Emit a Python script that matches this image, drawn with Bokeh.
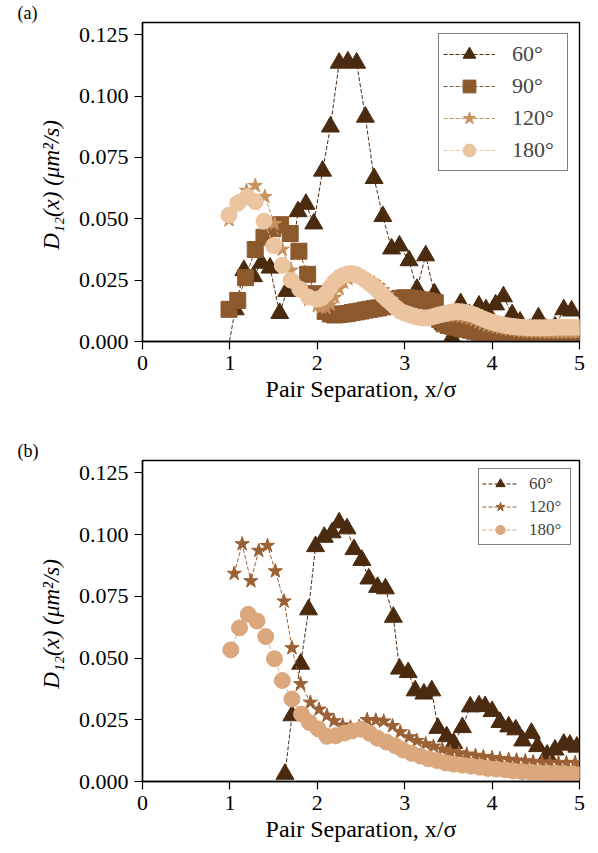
from bokeh.plotting import figure
from bokeh.layouts import column
from bokeh.models import (ColumnDataSource, Range1d, FixedTicker, NumeralTickFormatter,
                          Legend, LegendItem)
from bokeh.embed import file_html
from bokeh.resources import INLINE

SERIF = "Liberation Serif"

# ---------------- panel (a) ----------------
a60_x = [0.96, 1.06, 1.16, 1.27, 1.36, 1.46, 1.57, 1.65, 1.78, 1.87, 1.96, 2.06, 2.15, 2.25,
         2.35, 2.45, 2.55, 2.65, 2.75, 2.85, 2.94, 3.05, 3.14, 3.24, 3.34, 3.44, 3.54, 3.64,
         3.74, 3.85, 3.93, 4.04, 4.13, 4.23, 4.32, 4.43, 4.53, 4.62, 4.72, 4.82, 4.91]
a60_y = [-0.007, 0.013, 0.029, 0.0265, 0.032, 0.030, 0.0115, 0.0205, 0.053, 0.056, 0.048,
         0.0695, 0.0875, 0.1135, 0.114, 0.1135, 0.0915, 0.0665, 0.051, 0.0378, 0.039, 0.033,
         0.0213, 0.035, 0.0195, 0.007, 0.0016, 0.0155, 0.011, 0.0145, 0.013, 0.015, 0.0183,
         0.011, 0.008, 0.005, 0.0097, 0.005, 0.006, 0.013, 0.0125]

a90_x = [0.99, 1.09, 1.18, 1.29, 1.39, 1.49, 1.58, 1.69, 1.79, 1.89, 1.98, 2.09,
         2.15, 2.20, 2.25, 2.30, 2.35, 2.40, 2.45, 2.50, 2.55, 2.60, 2.65, 2.70, 2.75, 2.80,
         2.85, 2.90, 2.95, 3.00, 3.05, 3.10, 3.15, 3.20, 3.25, 3.30, 3.35, 3.40, 3.45, 3.50,
         3.55, 3.60, 3.65, 3.70, 3.75, 3.80, 3.85, 3.90, 3.95, 4.00, 4.05, 4.10, 4.15, 4.20,
         4.25, 4.30, 4.35, 4.40, 4.45, 4.50, 4.55, 4.60, 4.65, 4.70, 4.75, 4.80, 4.85, 4.90,
         4.95, 5.00]
a90_y = [0.0131, 0.0167, 0.026, 0.0375, 0.0425, 0.046, 0.0476, 0.044, 0.0368, 0.0274, 0.0195,
         0.0122, 0.0112, 0.0108, 0.0110, 0.0112, 0.0114, 0.0118, 0.0121, 0.0124, 0.0128,
         0.0131, 0.0134, 0.0137, 0.0141, 0.0145, 0.0150, 0.0172, 0.0176, 0.0178, 0.0177,
         0.0175, 0.0172, 0.0169, 0.0166, 0.0162, 0.0158, 0.0090, 0.0072, 0.0065, 0.0062,
         0.0058, 0.0054, 0.0050, 0.0046, 0.0042, 0.0038, 0.0035, 0.0031, 0.0027, 0.0024,
         0.0021, 0.0019, 0.0017, 0.0015, 0.0013, 0.0012, 0.0011, 0.0010, 0.0010, 0.0009,
         0.0009, 0.0008, 0.0008, 0.0008, 0.0007, 0.0007, 0.0007, 0.0006, 0.0006]

a120_x = [0.99, 1.09, 1.19, 1.29, 1.40, 1.51, 1.60, 1.70, 1.80, 1.90, 2.00,
          2.05, 2.10, 2.15, 2.20, 2.25, 2.30, 2.35, 2.40, 2.45, 2.50, 2.55, 2.60, 2.65, 2.70,
          2.75, 2.80, 2.85, 2.90, 2.95, 3.00, 3.05, 3.10, 3.15, 3.20, 3.25, 3.30, 3.35, 3.40,
          3.45, 3.50, 3.55, 3.60, 3.65, 3.70, 3.75, 3.80, 3.85, 3.90, 3.95, 4.00, 4.05, 4.10,
          4.15, 4.20, 4.25, 4.30, 4.35, 4.40, 4.45, 4.50, 4.55, 4.60, 4.65, 4.70, 4.75, 4.80,
          4.85, 4.90, 4.95, 5.00]
a120_y = [0.0495, 0.057, 0.0615, 0.0635, 0.059, 0.048, 0.0375, 0.029, 0.0225, 0.017, 0.0145,
          0.0140, 0.0138, 0.0150, 0.0180, 0.0215, 0.0240, 0.0255, 0.0262, 0.0265, 0.0262,
          0.0256, 0.0248, 0.0238, 0.0226, 0.0210, 0.0190, 0.0170, 0.0150, 0.0132, 0.0118,
          0.0108, 0.0100, 0.0095, 0.0092, 0.0092, 0.0094, 0.0097, 0.0100, 0.0103, 0.0105,
          0.0106, 0.0105, 0.0102, 0.0098, 0.0093, 0.0087, 0.0080, 0.0073, 0.0067, 0.0062,
          0.0058, 0.0054, 0.0051, 0.0048, 0.0046, 0.0044, 0.0042, 0.0041, 0.0040, 0.0039,
          0.0039, 0.0038, 0.0038, 0.0038, 0.0038, 0.0038, 0.0038, 0.0038, 0.0038, 0.0038]

a180_x = [0.99, 1.09, 1.20, 1.29, 1.39, 1.50, 1.60, 1.70, 1.80, 1.90, 2.00,
          2.05, 2.10, 2.15, 2.20, 2.25, 2.30, 2.35, 2.40, 2.45, 2.50, 2.55, 2.60, 2.65, 2.70,
          2.75, 2.80, 2.85, 2.90, 2.95, 3.00, 3.05, 3.10, 3.15, 3.20, 3.25, 3.30, 3.35, 3.40,
          3.45, 3.50, 3.55, 3.60, 3.65, 3.70, 3.75, 3.80, 3.85, 3.90, 3.95, 4.00, 4.05, 4.10,
          4.15, 4.20, 4.25, 4.30, 4.35, 4.40, 4.45, 4.50, 4.55, 4.60, 4.65, 4.70, 4.75, 4.80,
          4.85, 4.90, 4.95, 5.00]
a180_y = [0.0515, 0.0563, 0.059, 0.057, 0.049, 0.039, 0.031, 0.025, 0.0213, 0.0181, 0.0172,
          0.0178, 0.0195, 0.0222, 0.0245, 0.0260, 0.0270, 0.0276, 0.0277, 0.0272, 0.0262,
          0.0250, 0.0237, 0.0222, 0.0205, 0.0187, 0.0170, 0.0155, 0.0138, 0.0124, 0.0116,
          0.0110, 0.0104, 0.0099, 0.0096, 0.0096, 0.0099, 0.0104, 0.0109, 0.0113, 0.0117,
          0.0121, 0.0122, 0.0121, 0.0118, 0.0114, 0.0108, 0.0100, 0.0092, 0.0085, 0.0079,
          0.0074, 0.0070, 0.0066, 0.0063, 0.0061, 0.0059, 0.0058, 0.0057, 0.0056, 0.0056,
          0.0056, 0.0056, 0.0057, 0.0057, 0.0058, 0.0058, 0.0058, 0.0058, 0.0058, 0.0058]

# ---------------- panel (b) ----------------
b60_x = [1.63, 1.71, 1.81, 1.90, 1.98, 2.08, 2.17, 2.25, 2.34, 2.42, 2.51, 2.59, 2.69, 2.78,
         2.87, 2.94, 3.04, 3.12, 3.22, 3.31, 3.38, 3.48, 3.56, 3.66, 3.75, 3.85, 3.92, 4.00,
         4.09, 4.19, 4.27, 4.35, 4.45, 4.52, 4.63, 4.72, 4.82, 4.89, 4.97]
b60_y = [0.003, 0.0267, 0.0476, 0.0696, 0.0952, 0.099, 0.1008, 0.1048, 0.1024, 0.094, 0.0896,
         0.0821, 0.0787, 0.0781, 0.0666, 0.0456, 0.0442, 0.0368, 0.0355, 0.0368, 0.0216,
         0.0182, 0.0155, 0.0219, 0.0303, 0.0307, 0.0304, 0.0284, 0.024, 0.0222, 0.021,
         0.0165, 0.0196, 0.0142, 0.0108, 0.0128, 0.0152, 0.0148, 0.014]

b120_x = [1.05, 1.14, 1.24, 1.33, 1.43, 1.52, 1.62, 1.71, 1.81, 1.92, 2.02, 2.11, 2.19, 2.29,
          2.38, 2.48, 2.57, 2.67, 2.76, 2.86, 2.95, 3.05, 3.14, 3.24, 3.33, 3.43, 3.52, 3.62,
          3.71, 3.81, 3.90, 4.00, 4.09, 4.19, 4.28, 4.38, 4.47, 4.57, 4.66, 4.76, 4.85, 4.95]
b120_y = [0.0842, 0.0962, 0.0812, 0.0935, 0.0955, 0.0852, 0.073, 0.0541, 0.0395, 0.032, 0.0292,
          0.0267, 0.0245, 0.0228, 0.0220, 0.0222, 0.0250, 0.0248, 0.0244, 0.0225, 0.0200,
          0.0180, 0.0165, 0.0152, 0.0142, 0.0130, 0.0120, 0.0115, 0.0110, 0.0105, 0.0100,
          0.0096, 0.0092, 0.0089, 0.0086, 0.0083, 0.0080, 0.0078, 0.0077, 0.0076, 0.0076,
          0.0076]

b180_x = [1.01, 1.11, 1.21, 1.31, 1.41, 1.51, 1.60, 1.71, 1.82, 1.91, 2.01, 2.11, 2.21, 2.31,
          2.40, 2.50, 2.60, 2.69, 2.79, 2.89, 2.98, 3.08, 3.18, 3.27, 3.37, 3.47, 3.56, 3.66,
          3.76, 3.86, 3.95, 4.05, 4.15, 4.24, 4.34, 4.44, 4.53, 4.63, 4.73, 4.82, 4.92, 5.02]
b180_y = [0.0533, 0.0622, 0.0677, 0.0650, 0.0587, 0.0497, 0.0409, 0.0334, 0.0273, 0.0239,
          0.0213, 0.0183, 0.0185, 0.0196, 0.0205, 0.0212, 0.0195, 0.0175, 0.0160, 0.0145,
          0.0128, 0.0114, 0.0103, 0.0092, 0.0085, 0.0075, 0.0070, 0.0066, 0.0062, 0.0058,
          0.0053, 0.0050, 0.0047, 0.0043, 0.0040, 0.0038, 0.0036, 0.0034, 0.0033, 0.0032,
          0.0031, 0.0030]

x_ticks = [0, 1, 2, 3, 4, 5]
y_ticks = [0.0, 0.025, 0.05, 0.075, 0.1, 0.125]

C60 = "#4b2b0f"
C90 = "#8c592d"
C120A = "#c8925f"
C180A = "#ebc5a0"
C120B = "#9b6134"
C180B = "#dba87d"


def make_panel(height, top, bottom, tag):
    p = figure(width=598, height=height, output_backend="svg", toolbar_location=None,
               x_range=Range1d(0, 5), y_range=Range1d(0, 0.13),
               min_border_left=142, min_border_right=19,
               min_border_top=top, min_border_bottom=bottom)
    p.grid.visible = False
    p.background_fill_color = "white"
    p.border_fill_color = "white"
    p.outline_line_color = "black"
    p.outline_line_width = 1.4

    # panel tag in the top-left corner
    p.title.text = tag
    p.title.text_font = SERIF
    p.title.text_font_size = "18px"
    p.title.text_font_style = "normal"
    p.title.text_color = "black"
    p.title.align = "left"
    p.title.offset = -125
    p.title.standoff = 0
    p.title.text_line_height = 1.0

    for ax in (p.xaxis[0], p.yaxis[0]):
        ax.axis_line_color = "black"
        ax.axis_line_width = 1.4
        ax.major_tick_line_color = "black"
        ax.major_tick_line_width = 1.2
        ax.major_tick_out = 8
        ax.major_tick_in = 0
        ax.minor_tick_out = 0
        ax.minor_tick_in = 0
        ax.major_label_text_font = SERIF
        ax.major_label_text_font_size = "22px"
        ax.major_label_text_color = "black"
        ax.major_label_standoff = 6
        ax.axis_label_text_font = SERIF
        ax.axis_label_text_color = "black"
    p.xaxis.ticker = FixedTicker(ticks=x_ticks)
    p.xaxis.formatter = NumeralTickFormatter(format="0")
    p.yaxis.ticker = FixedTicker(ticks=y_ticks)
    p.yaxis.formatter = NumeralTickFormatter(format="0.000")
    p.xaxis.axis_label = "Pair Separation, x/\u03c3"
    p.xaxis.axis_label_text_font_style = "normal"
    p.xaxis.axis_label_text_font_size = "24px"
    p.xaxis.axis_label_standoff = 3
    p.yaxis.axis_label = "D\u2081\u2082(x)  (\u03bcm\u00b2/s)"
    p.yaxis.axis_label_text_font_style = "italic"
    p.yaxis.axis_label_text_font_size = "23px"
    p.yaxis.axis_label_standoff = 12
    return p


def add_series(p, x, y, color, marker, size):
    src = ColumnDataSource(dict(x=x, y=y))
    ln = p.line("x", "y", source=src, line_color=color, line_width=1, line_dash="4 2")
    sc = p.scatter("x", "y", source=src, marker=marker, size=size,
                   fill_color=color, line_color=color)
    return [ln, sc]


# panel (a)
pa = make_panel(426, 20, 85, "(a)")
ra60 = add_series(pa, a60_x, a60_y, C60, "triangle", 18)
ra90 = add_series(pa, a90_x, a90_y, C90, "square", 16)
ra120 = add_series(pa, a120_x, a120_y, C120A, "star", 15)
ra180 = add_series(pa, a180_x, a180_y, C180A, "circle", 16)
leg_a = Legend(items=[LegendItem(label="60\u00b0", renderers=ra60),
                      LegendItem(label="90\u00b0", renderers=ra90),
                      LegendItem(label="120\u00b0", renderers=ra120),
                      LegendItem(label="180\u00b0", renderers=ra180)],
               location="top_right", margin=11, padding=4, spacing=0,
               glyph_width=52, glyph_height=32, label_height=32, label_standoff=17,
               label_width=51,
               label_text_font=SERIF, label_text_font_size="22px",
               border_line_color="black", border_line_width=1,
               background_fill_color="white", background_fill_alpha=1)
pa.add_layout(leg_a)

# panel (b)
pb = make_panel(427, 34, 72, "(b)")
rb60 = add_series(pb, b60_x, b60_y, C60, "triangle", 18)
rb120 = add_series(pb, b120_x, b120_y, C120B, "star", 15)
rb180 = add_series(pb, b180_x, b180_y, C180B, "circle", 16)
leg_b = Legend(items=[LegendItem(label="60\u00b0", renderers=rb60),
                      LegendItem(label="120\u00b0", renderers=rb120),
                      LegendItem(label="180\u00b0", renderers=rb180)],
               location="top_right", margin=8, padding=3, spacing=0,
               glyph_width=36, glyph_height=23, label_height=23, label_standoff=11,
               label_width=38,
               label_text_font=SERIF, label_text_font_size="17px",
               border_line_color="black", border_line_width=1,
               background_fill_color="white", background_fill_alpha=1)
pb.add_layout(leg_b)

layout = column(pa, pb)
open("out.html", "w").write(file_html(layout, INLINE))
